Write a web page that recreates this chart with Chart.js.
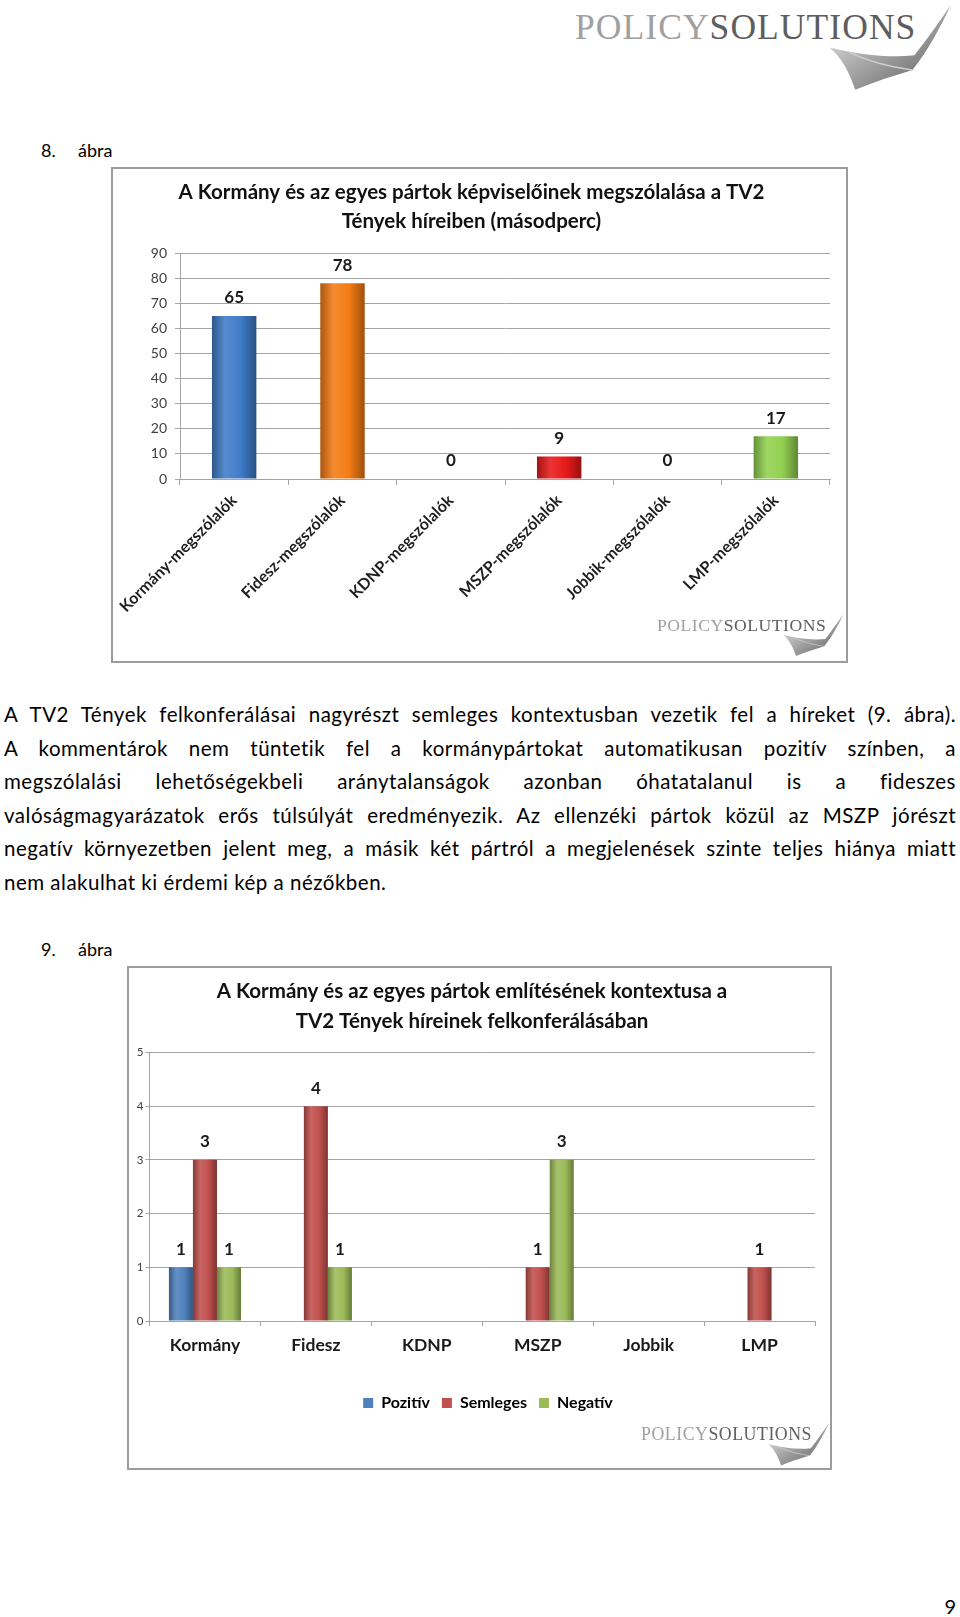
<!DOCTYPE html>
<html lang="hu">
<head>
<meta charset="utf-8">
<script src="https://cdn.jsdelivr.net/npm/chart.js@4.4.0/dist/chart.umd.min.js"></script>
<style>
  body { margin: 0; width: 960px; height: 1617px; position: relative; background: #fff; font-family: Lato, "Open Sans", sans-serif; color: #000; overflow: hidden; }
  .abs { position: absolute; }
  .frame { position: absolute; border: 2px solid #9c9c9c; box-sizing: border-box; background: #fff; }
  .frame canvas { position: absolute; left: 0; top: 0; }
  .caption { position: absolute; font-size: 18px; line-height: 20px; }
  .body-text { position: absolute; left: 4px; width: 952px; top: 698px; font-size: 20.5px; line-height: 33.5px; letter-spacing: 0.5px; }
  .body-text div { text-align: justify; text-align-last: justify; white-space: nowrap; }
  .body-text div.last { text-align-last: left; }
  .logo { position: absolute; font-family: "Liberation Serif", "DejaVu Serif", serif; line-height: 1; white-space: nowrap; letter-spacing: 0.03em; }
  .logo .p { color: #a0a0a0; }
  .logo .s { color: #5e5e5e; }
  .logo svg { position: absolute; }
</style>
</head>
<body>

<div class="logo" style="left:575px; top:10px; font-size:35.5px;"></div>

<div class="caption" style="left:41px; top:140px;">8.</div>
<div class="caption" style="left:78px; top:140px;">ábra</div>

<div class="frame" style="left:111px; top:167px; width:737px; height:496px;">
  <canvas id="speakerChart" width="733" height="492"></canvas>
  <div class="logo" style="left:544px; top:448px; font-size:17.6px;"></div>
</div>

<div class="body-text">
  <div>A TV2 Tények felkonferálásai nagyrészt semleges kontextusban vezetik fel a híreket (9. ábra).</div>
  <div>A kommentárok nem tüntetik fel a kormánypártokat automatikusan pozitív színben, a</div>
  <div>megszólalási lehetőségekbeli aránytalanságok azonban óhatatalanul is a fideszes</div>
  <div>valóságmagyarázatok erős túlsúlyát eredményezik. Az ellenzéki pártok közül az MSZP jórészt</div>
  <div>negatív környezetben jelent meg, a másik két pártról a megjelenések szinte teljes hiánya miatt</div>
  <div class="last">nem alakulhat ki érdemi kép a nézőkben.</div>
</div>

<div class="caption" style="left:41px; top:939px;">9.</div>
<div class="caption" style="left:78px; top:939px;">ábra</div>

<div class="frame" style="left:127px; top:966px; width:705px; height:504px;">
  <canvas id="contextChart" width="701" height="500"></canvas>
  <div class="logo" style="left:512px; top:458px; font-size:17.8px;"></div>
</div>

<div class="abs" style="right:4px; top:1594px; font-size:20px;">9</div>

<script>
// 8. ábra: megszólalások (másodperc)
const speakerLabels = ["Kormány-megszólalók", "Fidesz-megszólalók", "KDNP-megszólalók", "MSZP-megszólalók", "Jobbik-megszólalók", "LMP-megszólalók"];
const speakerSeconds = [65, 78, 0, 9, 0, 17];
const speakerColors = ["#3f7cc9", "#f47b14", "#9a9a9a", "#e81a1a", "#9a9a9a", "#92d050"];
const speakerMax = 90;
const speakerStep = 10;

// 9. ábra: említések kontextusa
const partyLabels = ["Kormány", "Fidesz", "KDNP", "MSZP", "Jobbik", "LMP"];
const positiveCounts = [1, 0, 0, 0, 0, 0];
const neutralCounts = [3, 4, 0, 1, 0, 1];
const negativeCounts = [1, 1, 0, 3, 0, 0];
const contextMax = 5;

const gridColor = "#a4a4a4";

// logo text + swoosh
const swoosh = `<svg viewBox="0 0 123 90" style="left:7.15em; top:-0.2em; width:3.45em; height:2.5em;">
  <defs><linearGradient id="sw" x1="0" y1="0" x2="1" y2="1">
    <stop offset="0" stop-color="#f2f2f2"/><stop offset="0.55" stop-color="#9c9c9c"/><stop offset="1" stop-color="#555"/>
  </linearGradient></defs>
  <path d="M0,45 C30,52 60,56 86,53 C100,35 112,18 123,2 C112,25 100,48 84,68 C65,74 45,80 26,88 C20,70 12,55 0,45 Z" fill="url(#sw)"/>
  <path d="M20,50 C45,62 70,66 84,68" stroke="#cfcfcf" stroke-width="1.5" fill="none"/>
</svg>`;
document.querySelectorAll(".logo").forEach((el) => {
  el.innerHTML = '<span class="p">POLICY</span><span class="s">SOLUTIONS</span>' + swoosh;
});

const shade = (hex, amt) => {
  const n = parseInt(hex.slice(1), 16);
  const f = (c) => Math.max(0, Math.min(255, Math.round(amt < 0 ? c * (1 + amt) : c + (255 - c) * amt)));
  return `rgb(${f(n >> 16)}, ${f((n >> 8) & 255)}, ${f(n & 255)})`;
};

// horizontal shading like the office charts
const barGradient = (context, base, share, groupSize) => {
  const chart = context.chart;
  const xScale = chart.scales.x;
  if (!xScale || !chart.chartArea) return base;
  const catWidth = (xScale.right - xScale.left) / chart.data.labels.length;
  const width = catWidth * share / groupSize;
  const center = xScale.getPixelForValue(context.dataIndex) + (context.datasetIndex - (groupSize - 1) / 2) * width;
  const g = chart.ctx.createLinearGradient(center - width / 2, 0, center + width / 2, 0);
  g.addColorStop(0, shade(base, -0.3));
  g.addColorStop(0.3, shade(base, 0.12));
  g.addColorStop(0.65, base);
  g.addColorStop(1, shade(base, -0.35));
  return g;
};

const valueLabels = {
  id: "valueLabels",
  afterDatasetsDraw(chart, args, opts) {
    const { ctx } = chart;
    ctx.save();
    ctx.font = "bold 17px Lato, sans-serif";
    ctx.fillStyle = "#1a1a1a";
    ctx.textAlign = "center";
    ctx.textBaseline = "middle";
    chart.data.datasets.forEach((ds, di) => {
      chart.getDatasetMeta(di).data.forEach((bar, i) => {
        const v = ds.data[i];
        if (v === 0 && !opts.showZero) return;
        ctx.fillText(String(v), bar.x, bar.y - 18);
      });
    });
    ctx.restore();
  },
};

// the legend sits a little right of centre in the original
const legendShift = {
  id: "legendShift",
  afterLayout(chart) {
    if (!chart.legend) return;
    chart.legend.left += 16;
    chart.legend.right += 16;
  },
};

const titleFont = { family: "Lato", size: 20.5, weight: "bold", lineHeight: 1.42 };

new Chart(document.getElementById("speakerChart"), {
  type: "bar",
  data: {
    labels: speakerLabels,
    datasets: [
      {
        data: speakerSeconds,
        backgroundColor: (c) => barGradient(c, speakerColors[c.dataIndex], 0.41, 1),
        borderWidth: 0,
        barPercentage: 0.41,
        categoryPercentage: 1,
      },
    ],
  },
  options: {
    responsive: false,
    animation: false,
    layout: { padding: { top: 0, right: 16, bottom: 32, left: 0 } },
    plugins: {
      legend: { display: false },
      tooltip: { enabled: false },
      valueLabels: { showZero: true },
      title: {
        display: true,
        text: ["A Kormány és az egyes pártok képviselőinek megszólalása a TV2", "Tények híreiben (másodperc)"],
        font: titleFont,
        color: "#111",
        padding: { top: 9, bottom: 17 },
      },
    },
    scales: {
      x: {
        grid: { drawOnChartArea: false, tickLength: 6, color: gridColor },
        border: { color: gridColor },
        ticks: { minRotation: 45, maxRotation: 45, padding: 6, color: "#1e1e1e", font: { family: "Lato", size: 16, weight: "bold" } },
        afterFit: (s) => { s.height = 150; s.paddingLeft = 0; s.paddingRight = 0; },
      },
      y: {
        min: 0,
        max: speakerMax,
        ticks: { stepSize: speakerStep, padding: 8, color: "#404040", font: { family: "Lato", size: 14 } },
        grid: { color: gridColor, tickLength: 5 },
        border: { color: gridColor },
        afterFit: (s) => { s.width = 67; },
      },
    },
  },
  plugins: [valueLabels],
});

const contextSeries = [
  { label: "Pozitív", data: positiveCounts, color: "#4f81bd" },
  { label: "Semleges", data: neutralCounts, color: "#c0504d" },
  { label: "Negatív", data: negativeCounts, color: "#9bbb59" },
];

new Chart(document.getElementById("contextChart"), {
  type: "bar",
  data: {
    labels: partyLabels,
    datasets: contextSeries.map((s) => ({
      label: s.label,
      data: s.data,
      backgroundColor: (c) => (c.type === "data" ? barGradient(c, s.color, 0.65, 3) : s.color),
      borderWidth: 0,
      barPercentage: 1,
      categoryPercentage: 0.65,
    })),
  },
  options: {
    responsive: false,
    animation: false,
    layout: { padding: { top: 0, right: 15, bottom: 47, left: 0 } },
    plugins: {
      tooltip: { enabled: false },
      valueLabels: { showZero: false },
      title: {
        display: true,
        text: ["A Kormány és az egyes pártok említésének kontextusa a", "TV2 Tények híreinek felkonferálásában"],
        font: { ...titleFont, lineHeight: 1.45 },
        color: "#111",
        padding: { top: 9, bottom: 16 },
      },
      legend: {
        position: "bottom",
        labels: {
          boxWidth: 10,
          boxHeight: 10,
          padding: 12,
          color: "#222",
          font: { family: "Lato", size: 16, weight: "bold" },
          generateLabels: () => contextSeries.map((s, i) => ({
            text: s.label, fillStyle: s.color, strokeStyle: s.color, lineWidth: 0, datasetIndex: i,
          })),
        },
      },
    },
    scales: {
      x: {
        grid: { drawOnChartArea: false, tickLength: 5, color: gridColor },
        border: { color: gridColor },
        ticks: { padding: 9, color: "#1a1a1a", font: { family: "Lato", size: 17.5, weight: "bold" } },
        afterFit: (s) => { s.height = 62; },
      },
      y: {
        min: 0,
        max: contextMax,
        ticks: { stepSize: 1, padding: 2, color: "#404040", font: { family: "Lato", size: 11.5 } },
        grid: { color: gridColor, tickLength: 4 },
        border: { color: gridColor },
        afterFit: (s) => { s.width = 20.5; },
      },
    },
  },
  plugins: [valueLabels, legendShift],
});
</script>
</body>
</html>
